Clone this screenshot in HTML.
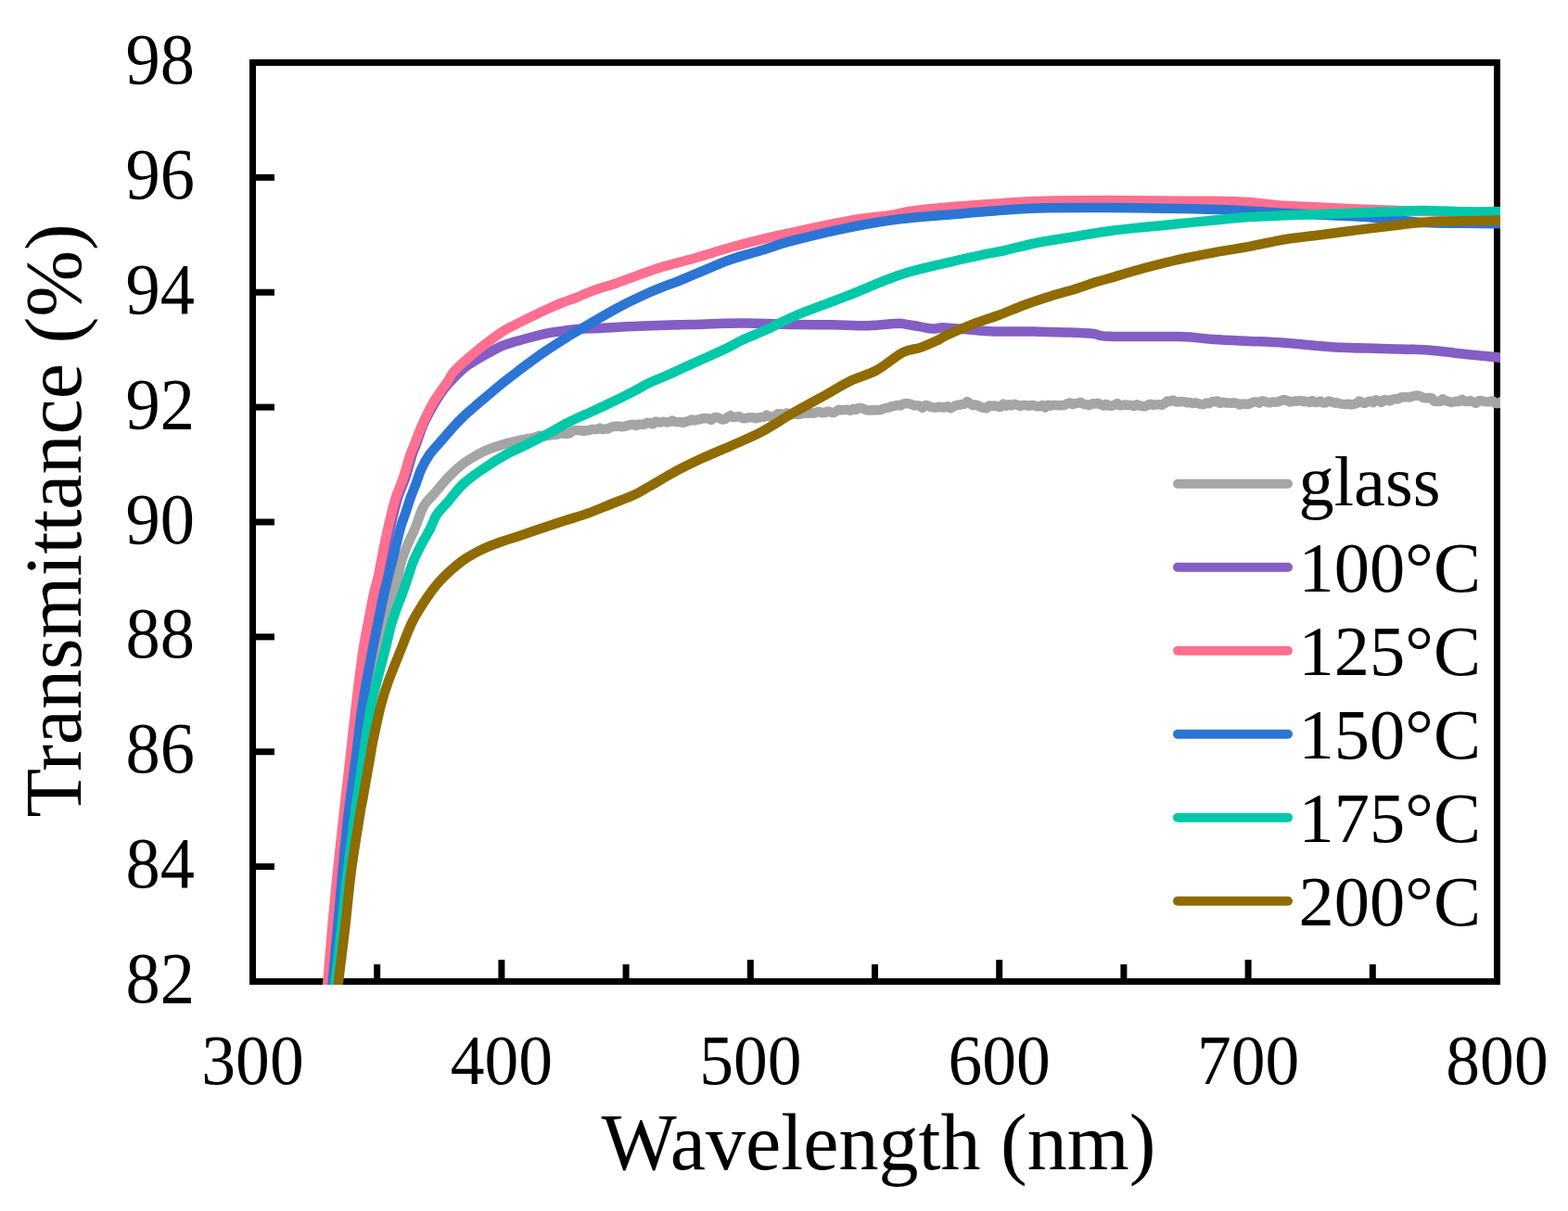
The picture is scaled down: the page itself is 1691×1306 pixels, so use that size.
<!DOCTYPE html>
<html><head><meta charset="utf-8"><style>
html,body{margin:0;padding:0;background:#fff;}
svg{display:block;}
text{font-family:"Liberation Serif", "Times New Roman", serif;fill:#000;}
</style></head><body>
<svg width="1691" height="1306" viewBox="0 0 1691 1306">
<rect width="1691" height="1306" fill="#fff"/>
<rect x="272.5" y="67.5" width="1342.0" height="991.0" fill="none" stroke="#000" stroke-width="7"/>
<line x1="276" y1="934.62" x2="296" y2="934.62" stroke="#000" stroke-width="7"/>
<line x1="276" y1="810.75" x2="296" y2="810.75" stroke="#000" stroke-width="7"/>
<line x1="276" y1="686.88" x2="296" y2="686.88" stroke="#000" stroke-width="7"/>
<line x1="276" y1="563.00" x2="296" y2="563.00" stroke="#000" stroke-width="7"/>
<line x1="276" y1="439.12" x2="296" y2="439.12" stroke="#000" stroke-width="7"/>
<line x1="276" y1="315.25" x2="296" y2="315.25" stroke="#000" stroke-width="7"/>
<line x1="276" y1="191.38" x2="296" y2="191.38" stroke="#000" stroke-width="7"/>
<line x1="406.70" y1="1055" x2="406.70" y2="1040" stroke="#000" stroke-width="7"/>
<line x1="540.90" y1="1055" x2="540.90" y2="1035" stroke="#000" stroke-width="7"/>
<line x1="675.10" y1="1055" x2="675.10" y2="1040" stroke="#000" stroke-width="7"/>
<line x1="809.30" y1="1055" x2="809.30" y2="1035" stroke="#000" stroke-width="7"/>
<line x1="943.50" y1="1055" x2="943.50" y2="1040" stroke="#000" stroke-width="7"/>
<line x1="1077.70" y1="1055" x2="1077.70" y2="1035" stroke="#000" stroke-width="7"/>
<line x1="1211.90" y1="1055" x2="1211.90" y2="1040" stroke="#000" stroke-width="7"/>
<line x1="1346.10" y1="1055" x2="1346.10" y2="1035" stroke="#000" stroke-width="7"/>
<line x1="1480.30" y1="1055" x2="1480.30" y2="1040" stroke="#000" stroke-width="7"/>
<defs><clipPath id="pc"><rect x="269" y="64" width="1349" height="998"/></clipPath></defs>
<g clip-path="url(#pc)" fill="none" stroke-width="10.5" stroke-linejoin="round" stroke-linecap="round">
<path d="M361.0,1063.0 C361.9,1052.5 364.6,1020.5 366.5,1000.0 C368.4,979.5 370.3,960.0 372.5,940.0 C374.7,920.0 377.0,900.0 379.5,880.0 C382.0,860.0 384.6,840.0 387.5,820.0 C390.4,800.0 393.8,779.2 397.0,760.0 C400.2,740.8 403.9,718.7 407.0,705.0 C410.1,691.3 413.3,686.9 415.8,677.8 C418.3,668.7 420.6,656.6 422.0,650.3 C423.4,644.0 423.1,644.6 424.3,640.0 C425.5,635.4 427.8,628.3 429.2,622.5 C430.6,616.7 431.3,610.8 433.0,605.0 C434.7,599.2 437.1,593.3 439.5,587.5 C441.9,581.7 444.6,576.9 447.5,570.0 C450.4,563.1 453.3,552.4 456.8,546.1 C460.3,539.8 463.8,537.6 468.3,532.4 C472.8,527.2 478.3,520.2 483.6,514.7 C488.9,509.3 493.4,504.4 500.0,499.7 C506.6,495.0 515.4,489.9 523.0,486.3 C530.6,482.8 538.2,480.6 545.9,478.4 C553.5,476.2 565.1,474.0 568.9,473.1 L571.9,473.1 L574.9,472.0 L577.9,471.2 L580.9,470.0 L583.9,469.8 L586.9,470.5 L589.9,469.8 L592.9,469.8 L595.9,469.0 L598.9,468.7 L601.9,468.2 L604.9,466.3 L607.9,467.7 L610.9,467.7 L613.9,467.5 L616.9,465.2 L619.9,464.0 L622.9,464.1 L625.9,464.2 L628.9,464.7 L631.9,464.2 L634.9,464.3 L637.9,463.0 L640.9,463.1 L643.9,462.9 L646.9,461.6 L649.9,463.2 L652.9,462.5 L655.9,462.6 L658.9,460.8 L661.9,459.9 L664.9,459.8 L667.9,459.7 L670.9,460.2 L673.9,459.8 L676.9,458.9 L679.9,457.9 L682.9,457.7 L685.9,459.0 L688.9,457.5 L691.9,457.7 L694.9,457.7 L697.9,455.8 L700.9,456.3 L703.9,457.5 L706.9,454.7 L709.9,455.2 L712.9,455.4 L715.9,454.7 L718.9,455.5 L721.9,455.1 L724.9,453.6 L727.9,454.9 L730.9,455.1 L733.9,455.3 L736.9,455.7 L739.9,454.7 L742.9,454.0 L745.9,452.4 L748.9,453.4 L751.9,452.6 L754.9,452.3 L757.9,451.3 L760.9,451.1 L763.9,451.3 L766.9,452.9 L769.9,450.4 L772.9,449.9 L775.9,451.1 L778.9,452.5 L781.9,452.1 L784.9,449.7 L787.9,448.1 L790.9,450.1 L793.9,449.7 L796.9,449.1 L799.9,450.7 L802.9,451.3 L805.9,450.5 L808.9,450.2 L811.9,450.2 L814.9,451.2 L817.9,450.5 L820.9,450.0 L823.9,449.7 L826.9,447.5 L829.9,449.2 L832.9,449.3 L835.9,448.8 L838.9,446.2 L841.9,446.3 L844.9,447.6 L847.9,445.4 L850.9,446.0 L853.9,447.1 L856.9,445.3 L859.9,447.1 L862.9,446.6 L865.9,445.7 L868.9,445.6 L871.9,445.8 L874.9,445.2 L877.9,445.7 L880.9,444.3 L883.9,444.1 L886.9,445.3 L889.9,444.8 L892.9,443.6 L895.9,444.6 L898.9,445.2 L901.9,443.5 L904.9,441.8 L907.9,442.2 L910.9,442.0 L913.9,441.7 L916.9,442.8 L919.9,440.9 L922.9,442.0 L925.9,439.9 L928.9,439.9 L931.9,441.3 L934.9,442.3 L937.9,442.5 L940.9,442.3 L943.9,442.1 L946.9,442.2 L949.9,442.1 L952.9,440.7 L955.9,440.0 L958.9,439.4 L961.9,438.2 L964.9,437.8 L967.9,436.9 L970.9,437.4 L973.9,435.6 L976.9,435.0 L979.9,435.2 L982.9,436.0 L985.9,437.4 L988.9,437.1 L991.9,437.9 L994.9,439.9 L997.9,436.9 L1000.9,437.5 L1003.9,438.9 L1006.9,439.4 L1009.9,439.4 L1012.9,438.7 L1015.9,439.4 L1018.9,439.3 L1021.9,438.2 L1024.9,440.2 L1027.9,438.7 L1030.9,437.1 L1033.9,436.7 L1036.9,436.2 L1039.9,435.9 L1042.9,433.1 L1045.9,434.9 L1048.9,437.2 L1051.9,436.4 L1054.9,437.5 L1057.9,439.1 L1060.9,439.8 L1063.9,440.3 L1066.9,437.5 L1069.9,437.7 L1072.9,437.6 L1075.9,438.4 L1078.9,439.0 L1081.9,435.7 L1084.9,437.8 L1087.9,436.2 L1090.9,437.4 L1093.9,435.8 L1096.9,436.7 L1099.9,437.9 L1102.9,437.1 L1105.9,437.1 L1108.9,437.7 L1111.9,437.3 L1114.9,437.0 L1117.9,438.3 L1120.9,438.3 L1123.9,437.1 L1126.9,439.5 L1129.9,436.8 L1132.9,437.7 L1135.9,436.9 L1138.9,436.9 L1141.9,437.3 L1144.9,437.0 L1147.9,437.1 L1150.9,435.2 L1153.9,434.4 L1156.9,436.0 L1159.9,435.1 L1162.9,434.6 L1165.9,433.9 L1168.9,436.1 L1171.9,436.3 L1174.9,437.1 L1177.9,435.3 L1180.9,435.6 L1183.9,434.8 L1186.9,436.2 L1189.9,437.6 L1192.9,435.9 L1195.9,437.6 L1198.9,437.8 L1201.9,436.8 L1204.9,435.0 L1207.9,437.4 L1210.9,437.0 L1213.9,436.4 L1216.9,437.0 L1219.9,437.1 L1222.9,438.1 L1225.9,436.2 L1228.9,437.4 L1231.9,438.1 L1234.9,438.2 L1237.9,436.8 L1240.9,435.7 L1243.9,436.9 L1246.9,436.4 L1249.9,436.1 L1252.9,436.8 L1255.9,435.2 L1258.9,432.5 L1261.9,433.0 L1264.9,431.6 L1267.9,433.2 L1270.9,433.5 L1273.9,432.9 L1276.9,433.3 L1279.9,434.3 L1282.9,434.0 L1285.9,435.1 L1288.9,434.3 L1291.9,435.1 L1294.9,435.9 L1297.9,436.3 L1300.9,434.5 L1303.9,435.3 L1306.9,433.2 L1309.9,433.2 L1312.9,432.4 L1315.9,434.9 L1318.9,433.7 L1321.9,434.4 L1324.9,434.5 L1327.9,434.7 L1330.9,434.3 L1333.9,434.9 L1336.9,436.5 L1339.9,435.6 L1342.9,435.7 L1345.9,436.0 L1348.9,434.9 L1351.9,433.4 L1354.9,433.4 L1357.9,434.7 L1360.9,432.6 L1363.9,432.7 L1366.9,434.0 L1369.9,434.2 L1372.9,433.4 L1375.9,433.7 L1378.9,433.1 L1381.9,431.8 L1384.9,431.1 L1387.9,431.8 L1390.9,433.6 L1393.9,432.9 L1396.9,432.5 L1399.9,432.6 L1402.9,432.0 L1405.9,433.2 L1408.9,432.7 L1411.9,434.0 L1414.9,432.1 L1417.9,433.9 L1420.9,433.7 L1423.9,432.5 L1426.9,434.5 L1429.9,434.3 L1432.9,432.6 L1435.9,433.2 L1438.9,434.5 L1441.9,434.3 L1444.9,435.4 L1447.9,435.8 L1450.9,435.9 L1453.9,435.7 L1456.9,436.4 L1459.9,435.8 L1462.9,435.2 L1465.9,432.5 L1468.9,434.1 L1471.9,434.8 L1474.9,433.4 L1477.9,432.5 L1480.9,434.2 L1483.9,431.3 L1486.9,432.1 L1489.9,433.9 L1492.9,431.2 L1495.9,431.5 L1498.9,432.4 L1501.9,430.6 L1504.9,430.3 L1507.9,430.3 L1510.9,428.4 L1513.9,428.2 L1516.9,428.2 L1519.9,428.4 L1522.9,427.4 L1525.9,426.8 L1528.9,426.5 L1531.9,427.3 L1534.9,429.1 L1537.9,429.4 L1540.9,429.0 L1543.9,429.2 L1546.9,432.8 L1549.9,433.0 L1552.9,433.0 L1555.9,430.4 L1558.9,432.2 L1561.9,432.8 L1564.9,434.0 L1567.9,433.4 L1570.9,432.7 L1573.9,433.0 L1576.9,430.9 L1579.9,432.9 L1582.9,433.0 L1585.9,432.1 L1588.9,433.6 L1591.9,434.7 L1594.9,432.3 L1597.9,432.2 L1600.9,433.1 L1603.9,433.4 L1606.9,433.0 L1609.9,432.4 L1612.9,435.1 L1615.9,435.1 L1618.9,433.2 L1621.9,432.5" stroke="#a5a5a5"/>
<path d="M355.5,1063.0 C356.4,1052.5 359.0,1020.5 360.8,1000.0 C362.6,979.5 364.5,960.0 366.5,940.0 C368.5,920.0 370.8,900.0 373.0,880.0 C375.2,860.0 377.6,840.0 379.8,820.0 C382.1,800.0 384.0,780.0 386.5,760.0 C389.0,740.0 391.7,716.0 394.7,700.0 C397.7,684.0 401.9,676.9 404.5,664.0 C407.1,651.1 407.7,636.5 410.0,622.7 C412.3,608.9 415.3,595.1 418.3,581.3 C421.3,567.5 424.9,550.9 428.0,540.0 C431.1,529.1 434.2,524.2 437.0,516.0 C439.8,507.8 442.5,496.8 444.5,490.6 C446.5,484.4 447.0,484.4 449.0,479.0 C451.0,473.6 453.1,465.6 456.5,458.0 C459.9,450.4 465.8,439.9 469.5,433.6 C473.2,427.3 475.1,424.4 478.5,420.0 C481.9,415.6 485.7,411.3 490.0,407.0 C494.3,402.7 499.5,397.8 504.2,394.2 C508.9,390.6 512.4,388.8 518.4,385.4 C524.4,382.0 533.6,376.5 540.0,373.6 C546.4,370.7 551.2,369.8 556.8,368.1 C562.4,366.4 568.1,365.0 573.7,363.5 C579.3,362.0 584.9,360.4 590.5,359.3 C596.1,358.2 602.5,357.6 607.4,356.9 C612.3,356.2 612.9,355.7 620.0,355.2 C627.1,354.7 638.9,354.3 650.3,353.7 C661.7,353.1 672.4,352.4 688.2,351.8 C704.0,351.2 726.4,350.5 745.0,350.0 C763.6,349.5 780.8,348.6 800.0,348.6 C819.2,348.6 843.7,349.8 860.0,350.1 C876.3,350.4 885.2,350.1 897.8,350.3 C910.4,350.5 924.7,351.5 935.7,351.3 C946.8,351.1 957.8,349.5 964.1,349.1 C970.4,348.7 968.8,348.6 973.5,349.1 C978.2,349.7 987.0,351.5 992.5,352.4 C998.0,353.3 1002.0,354.4 1006.6,354.6 C1011.2,354.8 1009.9,353.0 1020.0,353.4 C1030.1,353.8 1051.5,356.5 1067.3,357.2 C1083.1,357.9 1100.4,357.3 1114.6,357.5 C1128.8,357.7 1141.6,358.2 1152.5,358.6 C1163.4,359.0 1172.8,359.4 1180.0,360.1 C1187.2,360.8 1180.5,362.3 1195.7,362.8 C1210.9,363.3 1252.5,362.6 1271.4,363.1 C1290.3,363.6 1296.6,365.2 1309.2,366.0 C1321.8,366.8 1334.5,367.3 1347.1,367.9 C1359.7,368.5 1369.5,368.7 1385.0,369.8 C1400.5,370.9 1422.5,373.5 1440.0,374.5 C1457.5,375.5 1473.3,375.5 1490.0,376.0 C1506.7,376.5 1525.0,376.4 1540.0,377.4 C1555.0,378.4 1566.3,380.6 1580.0,382.0 C1593.7,383.4 1615.0,385.3 1622.0,386.0" stroke="#835ec4"/>
<path d="M353.0,1063.0 C353.9,1052.5 356.5,1020.5 358.3,1000.0 C360.1,979.5 362.0,960.0 364.0,940.0 C366.0,920.0 368.3,900.0 370.5,880.0 C372.7,860.0 375.1,840.0 377.3,820.0 C379.6,800.0 381.6,780.0 384.0,760.0 C386.4,740.0 389.5,715.0 391.7,700.0 C393.9,685.0 395.4,680.0 397.3,670.0 C399.2,660.0 401.4,647.9 403.1,640.0 C404.8,632.1 405.5,632.5 407.6,622.7 C409.7,612.9 412.8,595.1 415.8,581.3 C418.8,567.5 422.7,550.9 425.8,540.0 C428.9,529.1 431.9,524.2 434.6,516.0 C437.4,507.8 440.2,496.8 442.3,490.6 C444.4,484.4 445.0,484.1 447.0,479.0 C449.0,473.9 451.1,467.6 454.5,460.0 C457.9,452.4 462.7,441.8 467.5,433.6 C472.3,425.4 479.4,416.2 483.2,410.6 C486.9,405.0 485.3,405.0 490.0,400.0 C494.7,395.0 503.0,387.6 511.3,380.7 C519.6,373.8 532.4,364.0 540.0,358.8 C547.6,353.6 551.2,352.5 556.8,349.6 C562.4,346.7 568.1,343.9 573.7,341.2 C579.3,338.5 584.9,335.7 590.5,333.2 C596.1,330.7 602.5,327.9 607.4,326.0 C612.3,324.1 614.6,323.6 620.0,321.5 C625.4,319.4 632.3,316.1 639.7,313.4 C647.1,310.7 656.2,308.3 664.5,305.5 C672.8,302.7 681.0,299.4 689.3,296.4 C697.6,293.4 707.4,289.8 714.2,287.7 C721.0,285.6 723.5,285.4 730.0,283.6 C736.5,281.9 743.7,279.9 753.1,277.2 C762.5,274.5 775.2,270.4 786.2,267.3 C797.2,264.2 808.2,261.3 819.3,258.6 C830.3,255.9 840.2,253.8 852.5,251.1 C864.8,248.4 880.8,245.0 893.1,242.5 C905.4,240.0 915.2,238.0 926.2,236.3 C937.2,234.6 949.6,233.6 959.3,232.1 C969.0,230.6 972.9,229.0 984.2,227.5 C995.5,226.0 1010.5,224.5 1027.1,223.1 C1043.7,221.7 1068.4,219.9 1083.9,218.9 C1099.4,217.9 1101.4,217.5 1120.0,217.0 C1138.6,216.5 1170.5,216.1 1195.7,216.1 C1220.9,216.1 1252.5,216.7 1271.4,216.8 C1290.3,216.9 1296.6,216.5 1309.2,216.7 C1321.8,216.9 1335.3,217.2 1347.1,218.0 C1358.9,218.8 1367.4,220.6 1380.0,221.5 C1392.6,222.4 1408.4,222.8 1422.6,223.5 C1436.8,224.2 1451.0,224.9 1465.2,225.5 C1479.4,226.1 1495.9,226.5 1507.7,226.9 C1519.5,227.3 1524.0,227.5 1536.0,228.0 C1548.0,228.5 1565.7,229.5 1580.0,230.0 C1594.3,230.5 1615.0,230.8 1622.0,231.0" stroke="#ff6f90"/>
<path d="M358.3,1063.0 C359.3,1052.5 362.3,1020.5 364.2,1000.0 C366.1,979.5 367.6,960.0 369.5,940.0 C371.4,920.0 373.2,900.0 375.5,880.0 C377.8,860.0 380.9,840.0 383.5,820.0 C386.1,800.0 387.9,780.0 391.0,760.0 C394.1,740.0 399.0,715.0 401.9,700.0 C404.8,685.0 406.0,680.0 408.1,670.0 C410.2,660.0 412.6,647.9 414.4,640.0 C416.1,632.1 416.8,630.2 418.6,622.7 C420.5,615.2 423.2,604.3 425.5,595.1 C427.8,585.9 430.3,574.8 432.4,567.6 C434.4,560.4 436.1,557.1 437.8,551.9 C439.5,546.7 441.0,541.7 442.8,536.6 C444.6,531.5 446.8,526.4 448.7,521.3 C450.6,516.2 451.9,511.0 454.3,505.9 C456.7,500.8 459.3,495.7 462.9,490.6 C466.5,485.5 471.6,480.4 476.0,475.3 C480.4,470.2 485.3,464.4 489.3,460.0 C493.3,455.6 496.6,452.3 500.0,449.0 C503.4,445.7 506.7,443.0 510.0,440.1 C513.3,437.2 515.0,435.7 520.0,431.5 C525.0,427.3 533.9,419.7 540.0,414.7 C546.1,409.7 551.2,405.9 556.8,401.6 C562.4,397.3 568.1,393.1 573.7,389.0 C579.3,384.9 584.9,381.0 590.5,377.2 C596.1,373.4 602.5,369.4 607.4,366.3 C612.3,363.2 610.5,364.1 620.0,358.5 C629.5,352.9 653.0,339.2 664.5,332.8 C676.0,326.4 681.0,324.2 689.3,320.4 C697.6,316.5 707.4,312.4 714.2,309.7 C721.0,306.9 723.5,306.5 730.0,303.9 C736.5,301.3 743.7,298.1 753.1,294.2 C762.5,290.3 775.2,284.4 786.2,280.5 C797.2,276.6 808.2,274.0 819.3,270.6 C830.3,267.2 836.8,264.3 852.5,260.2 C868.2,256.1 893.9,249.8 913.5,245.8 C933.1,241.8 951.4,238.7 970.3,236.3 C989.2,233.9 1008.2,232.8 1027.1,231.2 C1046.0,229.6 1068.4,227.6 1083.9,226.5 C1099.4,225.4 1101.4,224.8 1120.0,224.4 C1138.6,224.0 1170.5,223.9 1195.7,224.0 C1220.9,224.1 1249.3,224.6 1271.4,225.0 C1293.5,225.4 1310.1,225.8 1328.2,226.5 C1346.3,227.2 1361.9,228.5 1380.0,229.5 C1398.1,230.5 1420.2,231.5 1436.8,232.3 C1453.3,233.1 1462.8,233.1 1479.3,234.4 C1495.8,235.7 1519.5,238.9 1536.1,240.0 C1552.7,241.1 1564.4,240.6 1578.7,240.8 C1593.0,241.0 1614.8,241.1 1622.0,241.2" stroke="#2c75d4"/>
<path d="M361.3,1063.0 C362.4,1052.5 365.9,1020.5 368.2,1000.0 C370.4,979.5 372.4,960.0 374.8,940.0 C377.2,920.0 379.7,900.0 382.4,880.0 C385.1,860.0 388.2,840.0 391.2,820.0 C394.2,800.0 396.4,780.0 400.5,760.0 C404.6,740.0 411.9,715.0 415.6,700.0 C419.4,685.0 419.9,680.0 423.0,670.0 C426.1,660.0 431.1,647.9 433.9,640.0 C436.7,632.1 438.0,628.3 440.0,622.5 C442.0,616.7 443.5,610.8 445.9,605.0 C448.3,599.2 451.4,593.3 454.4,587.5 C457.4,581.7 461.2,575.4 464.0,570.0 C466.8,564.6 467.7,559.9 471.0,555.0 C474.3,550.1 478.8,546.1 483.6,540.5 C488.4,534.9 493.4,527.5 500.0,521.5 C506.6,515.5 515.4,509.5 523.0,504.3 C530.6,499.1 538.2,494.3 545.9,490.1 C553.5,485.9 561.2,482.8 568.9,479.0 C576.6,475.2 584.2,471.2 591.9,467.1 C599.6,463.0 606.8,458.6 614.9,454.5 C623.0,450.4 633.0,446.3 640.7,442.7 C648.5,439.1 654.5,436.4 661.4,433.1 C668.3,429.8 675.1,426.2 682.0,422.7 C688.9,419.1 696.4,414.8 702.7,411.8 C709.0,408.8 713.0,407.6 720.0,404.5 C727.0,401.4 734.5,397.8 745.0,393.0 C755.5,388.2 773.6,380.3 782.8,376.0 C792.0,371.7 792.1,370.7 800.0,367.0 C807.9,363.3 820.0,358.6 830.0,354.0 C840.0,349.4 846.1,345.3 860.0,339.5 C873.9,333.7 895.1,326.4 913.5,319.2 C931.9,312.0 952.5,302.4 970.3,296.5 C988.0,290.6 1005.4,287.2 1020.0,283.7 C1034.6,280.1 1047.1,277.5 1057.8,275.2 C1068.5,272.9 1073.5,272.3 1083.9,270.0 C1094.3,267.7 1107.7,263.9 1120.0,261.5 C1132.3,259.1 1145.2,257.4 1157.8,255.3 C1170.4,253.2 1183.1,250.9 1195.7,249.2 C1208.3,247.5 1220.9,246.3 1233.5,245.0 C1246.1,243.7 1258.8,242.6 1271.4,241.3 C1284.0,240.1 1296.6,238.7 1309.2,237.5 C1321.8,236.3 1335.3,234.9 1347.1,234.1 C1358.9,233.3 1367.4,233.1 1380.0,232.6 C1392.6,232.1 1408.4,231.4 1422.6,230.9 C1436.8,230.4 1451.0,230.0 1465.2,229.5 C1479.4,229.0 1495.9,228.4 1507.7,228.0 C1519.5,227.6 1524.3,226.8 1536.1,226.9 C1547.9,227.0 1564.4,228.1 1578.7,228.3 C1593.0,228.5 1614.8,228.3 1622.0,228.3" stroke="#00c8a8"/>
<path d="M364.5,1063.0 C365.8,1052.5 369.8,1020.5 372.2,1000.0 C374.6,979.5 376.1,960.0 378.7,940.0 C381.3,920.0 385.8,893.3 387.9,880.0 C390.0,866.7 389.7,870.0 391.5,860.0 C393.3,850.0 396.8,830.1 398.6,820.0 C400.4,809.9 400.1,809.5 402.2,799.4 C404.3,789.3 408.3,770.2 411.1,759.5 C413.9,748.8 415.2,744.9 418.8,735.0 C422.4,725.1 428.2,710.8 432.6,700.0 C437.0,689.2 440.2,679.4 445.0,670.0 C449.8,660.6 456.9,650.1 461.3,643.4 C465.8,636.7 467.7,634.2 471.7,629.6 C475.7,625.0 480.3,620.3 485.4,615.8 C490.4,611.3 495.9,606.5 502.0,602.5 C508.1,598.5 515.7,594.5 522.0,591.5 C528.3,588.5 533.7,586.8 540.0,584.5 C546.3,582.2 552.5,580.5 560.0,578.0 C567.5,575.5 576.5,572.3 584.8,569.5 C593.1,566.7 601.4,564.0 609.7,561.3 C618.0,558.6 626.2,556.4 634.5,553.4 C642.8,550.4 651.0,546.8 659.3,543.5 C667.6,540.2 677.4,536.6 684.2,533.5 C691.0,530.4 692.4,529.1 700.0,524.8 C707.6,520.5 719.9,512.9 729.9,507.6 C739.9,502.3 749.8,497.7 759.8,493.1 C769.8,488.5 779.6,484.6 789.6,480.2 C799.6,475.8 809.5,471.9 819.5,466.7 C829.5,461.5 842.6,452.8 849.4,448.8 C856.1,444.8 853.5,446.2 860.0,442.6 C866.5,439.0 878.9,432.3 888.4,427.0 C897.9,421.7 907.3,415.5 916.8,410.9 C926.2,406.3 935.6,404.6 945.1,399.5 C954.6,394.4 965.6,384.2 973.5,380.1 C981.4,376.0 986.2,377.1 992.5,374.9 C998.8,372.7 1006.8,369.0 1011.4,366.9 C1016.0,364.8 1013.8,364.8 1020.0,362.0 C1026.2,359.2 1038.9,353.6 1048.4,349.9 C1057.9,346.2 1067.3,343.5 1076.8,340.0 C1086.2,336.5 1095.6,332.2 1105.1,328.7 C1114.5,325.2 1124.0,322.2 1133.5,319.2 C1143.0,316.2 1154.2,313.3 1161.9,310.9 C1169.7,308.5 1174.4,306.5 1180.0,304.7 C1185.6,302.9 1186.8,302.9 1195.7,300.3 C1204.6,297.7 1220.9,292.7 1233.5,289.3 C1246.1,285.9 1258.8,282.6 1271.4,279.8 C1284.0,277.0 1296.6,274.6 1309.2,272.3 C1321.8,270.0 1334.5,268.2 1347.1,265.9 C1359.7,263.6 1372.4,260.4 1385.0,258.3 C1397.6,256.2 1409.2,255.2 1422.6,253.5 C1436.0,251.8 1451.0,249.7 1465.2,247.9 C1479.4,246.1 1495.9,244.2 1507.7,242.8 C1519.5,241.4 1524.3,240.4 1536.1,239.7 C1547.9,238.9 1564.4,238.7 1578.7,238.3 C1593.0,237.9 1614.8,237.6 1622.0,237.5" stroke="#8f6b00"/>

</g>
<text x="210" y="1081.0" text-anchor="end" font-size="78" textLength="74.5" lengthAdjust="spacingAndGlyphs">82</text>
<text x="210" y="957.1" text-anchor="end" font-size="78" textLength="74.5" lengthAdjust="spacingAndGlyphs">84</text>
<text x="210" y="833.2" text-anchor="end" font-size="78" textLength="74.5" lengthAdjust="spacingAndGlyphs">86</text>
<text x="210" y="709.4" text-anchor="end" font-size="78" textLength="74.5" lengthAdjust="spacingAndGlyphs">88</text>
<text x="210" y="585.5" text-anchor="end" font-size="78" textLength="74.5" lengthAdjust="spacingAndGlyphs">90</text>
<text x="210" y="461.6" text-anchor="end" font-size="78" textLength="74.5" lengthAdjust="spacingAndGlyphs">92</text>
<text x="210" y="337.8" text-anchor="end" font-size="78" textLength="74.5" lengthAdjust="spacingAndGlyphs">94</text>
<text x="210" y="213.9" text-anchor="end" font-size="78" textLength="74.5" lengthAdjust="spacingAndGlyphs">96</text>
<text x="210" y="90.0" text-anchor="end" font-size="78" textLength="74.5" lengthAdjust="spacingAndGlyphs">98</text>
<text x="272.5" y="1169.1" text-anchor="middle" font-size="77" textLength="110.3" lengthAdjust="spacingAndGlyphs">300</text>
<text x="540.9" y="1169.1" text-anchor="middle" font-size="77" textLength="110.3" lengthAdjust="spacingAndGlyphs">400</text>
<text x="809.3" y="1169.1" text-anchor="middle" font-size="77" textLength="110.3" lengthAdjust="spacingAndGlyphs">500</text>
<text x="1077.7" y="1169.1" text-anchor="middle" font-size="77" textLength="110.3" lengthAdjust="spacingAndGlyphs">600</text>
<text x="1346.1" y="1169.1" text-anchor="middle" font-size="77" textLength="110.3" lengthAdjust="spacingAndGlyphs">700</text>
<text x="1614.5" y="1169.1" text-anchor="middle" font-size="77" textLength="110.3" lengthAdjust="spacingAndGlyphs">800</text>
<line x1="1270" y1="521.8" x2="1389" y2="521.8" stroke="#a5a5a5" stroke-width="10" stroke-linecap="round"/>
<text x="1400.6" y="545.3" font-size="76.5">glass</text>
<line x1="1270" y1="611.8" x2="1389" y2="611.8" stroke="#835ec4" stroke-width="10" stroke-linecap="round"/>
<text x="1400.6" y="638" font-size="76.5">100°C</text>
<line x1="1270" y1="701.8" x2="1389" y2="701.8" stroke="#ff6f90" stroke-width="10" stroke-linecap="round"/>
<text x="1400.6" y="728" font-size="76.5">125°C</text>
<line x1="1270" y1="791.8" x2="1389" y2="791.8" stroke="#2c75d4" stroke-width="10" stroke-linecap="round"/>
<text x="1400.6" y="818" font-size="76.5">150°C</text>
<line x1="1270" y1="881.8" x2="1389" y2="881.8" stroke="#00c8a8" stroke-width="10" stroke-linecap="round"/>
<text x="1400.6" y="908" font-size="76.5">175°C</text>
<line x1="1270" y1="971.8" x2="1389" y2="971.8" stroke="#8f6b00" stroke-width="10" stroke-linecap="round"/>
<text x="1400.6" y="998" font-size="76.5">200°C</text>
<text x="947.4" y="1261" text-anchor="middle" font-size="86.1">Wavelength (nm)</text>
<text transform="translate(87.1 561.4) rotate(-90)" x="0" y="0" text-anchor="middle" font-size="86.1">Transmittance (%)</text>
</svg>
</body></html>
